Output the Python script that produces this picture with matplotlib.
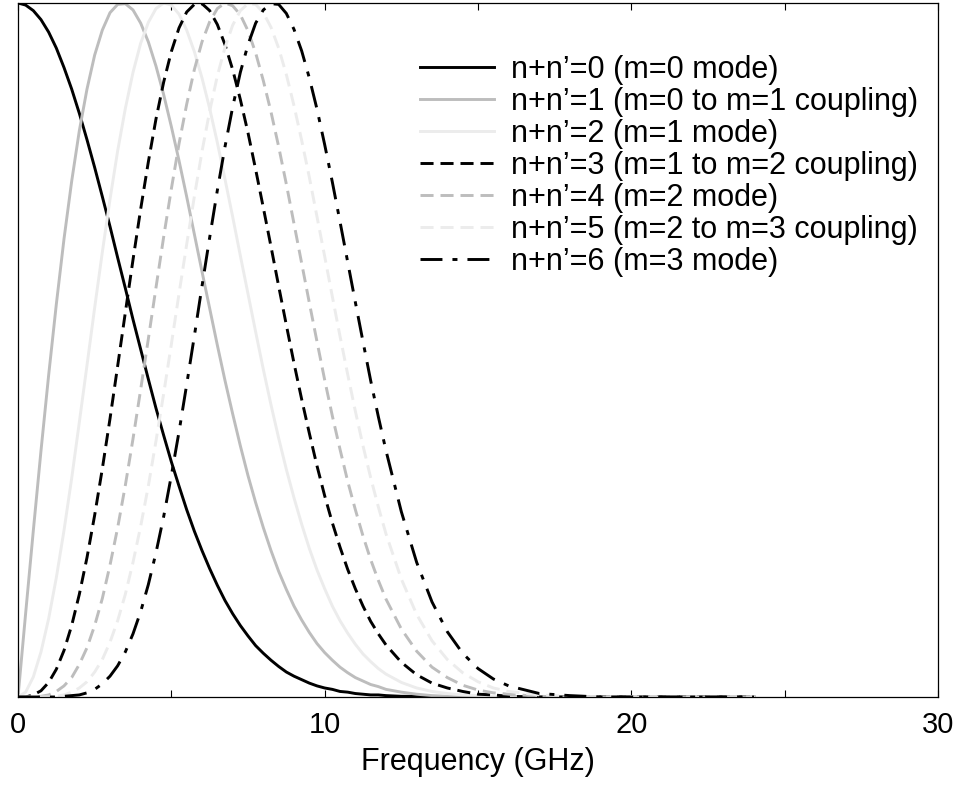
import matplotlib.pyplot as plt

# frequency samples (GHz) and normalised response of each n+n' order
freq = [0, 0.25, 0.5, 0.75, 1.0, 1.25, 1.5, 1.75,
        2.0, 2.25, 2.5, 2.75, 3.0, 3.25, 3.5, 3.75,
        4.0, 4.25, 4.5, 4.75, 5.0, 5.25, 5.5, 5.75,
        6.0, 6.25, 6.5, 6.75, 7.0, 7.25, 7.5, 7.75,
        8.0, 8.25, 8.5, 8.75, 9.0, 9.25, 9.5, 9.75,
        10.0, 10.25, 10.5, 10.75, 11.0, 11.25, 11.5, 11.75,
        12.0, 12.5, 13.0, 13.5, 14.0, 14.5, 15.0, 15.5,
        16.0, 17, 18, 19, 20, 21, 22, 23,
        24]

n0 = [1.000, 0.997, 0.989, 0.976, 0.958, 0.935, 0.907, 0.876,
      0.841, 0.803, 0.763, 0.721, 0.678, 0.633, 0.589, 0.544,
      0.501, 0.458, 0.416, 0.377, 0.339, 0.304, 0.270, 0.239,
      0.211, 0.185, 0.161, 0.139, 0.120, 0.103, 0.088, 0.074,
      0.063, 0.053, 0.044, 0.036, 0.030, 0.025, 0.020, 0.016,
      0.013, 0.011, 0.008, 0.007, 0.005, 0.004, 0.003, 0.003,
      0.002, 0.001, 0.001, 0, 0, 0, 0, 0,
      0, 0, 0, 0, 0, 0, 0, 0,
      0]
n1 = [0, 0.121, 0.240, 0.355, 0.464, 0.566, 0.660, 0.743,
      0.816, 0.876, 0.925, 0.961, 0.986, 0.998, 0.999, 0.990,
      0.971, 0.944, 0.909, 0.868, 0.822, 0.773, 0.721, 0.667,
      0.613, 0.560, 0.507, 0.456, 0.408, 0.362, 0.319, 0.280,
      0.244, 0.211, 0.181, 0.155, 0.131, 0.111, 0.093, 0.077,
      0.064, 0.053, 0.043, 0.035, 0.028, 0.023, 0.018, 0.015,
      0.011, 0.007, 0.004, 0.002, 0.001, 0.001, 0, 0,
      0, 0, 0, 0, 0, 0, 0, 0,
      0]
n2 = [0, 0.007, 0.029, 0.065, 0.113, 0.172, 0.240, 0.315,
      0.396, 0.478, 0.561, 0.641, 0.717, 0.787, 0.848, 0.900,
      0.942, 0.972, 0.992, 1.000, 0.997, 0.984, 0.961, 0.930,
      0.892, 0.848, 0.799, 0.746, 0.692, 0.636, 0.581, 0.526,
      0.472, 0.421, 0.373, 0.328, 0.287, 0.249, 0.214, 0.183,
      0.156, 0.131, 0.110, 0.092, 0.076, 0.062, 0.051, 0.041,
      0.033, 0.021, 0.013, 0.008, 0.005, 0.003, 0.002, 0.001,
      0, 0, 0, 0, 0, 0, 0, 0,
      0]
n3 = [0, 0, 0.003, 0.009, 0.021, 0.040, 0.067, 0.103,
      0.148, 0.201, 0.262, 0.329, 0.401, 0.477, 0.554, 0.630,
      0.703, 0.771, 0.833, 0.886, 0.930, 0.964, 0.987, 0.998,
      0.999, 0.989, 0.969, 0.940, 0.904, 0.861, 0.813, 0.760,
      0.705, 0.649, 0.592, 0.536, 0.481, 0.429, 0.380, 0.333,
      0.290, 0.251, 0.216, 0.184, 0.156, 0.131, 0.109, 0.091,
      0.075, 0.050, 0.032, 0.020, 0.013, 0.008, 0.004, 0.003,
      0.001, 0, 0, 0, 0, 0, 0, 0,
      0]
n4 = [0, 0, 0, 0.001, 0.003, 0.008, 0.016, 0.028,
      0.047, 0.071, 0.103, 0.142, 0.190, 0.244, 0.305, 0.372,
      0.443, 0.516, 0.590, 0.663, 0.732, 0.797, 0.854, 0.904,
      0.944, 0.973, 0.992, 1.000, 0.996, 0.983, 0.960, 0.928,
      0.888, 0.843, 0.793, 0.739, 0.682, 0.625, 0.568, 0.512,
      0.457, 0.405, 0.357, 0.311, 0.270, 0.232, 0.198, 0.168,
      0.141, 0.098, 0.066, 0.043, 0.028, 0.017, 0.010, 0.006,
      0.004, 0.001, 0, 0, 0, 0, 0, 0,
      0]
n5 = [0, 0, 0, 0, 0, 0.001, 0.003, 0.007,
      0.013, 0.022, 0.036, 0.054, 0.079, 0.110, 0.148, 0.194,
      0.246, 0.304, 0.369, 0.437, 0.508, 0.581, 0.652, 0.721,
      0.786, 0.844, 0.895, 0.936, 0.968, 0.989, 0.999, 0.998,
      0.986, 0.965, 0.935, 0.897, 0.852, 0.802, 0.749, 0.692,
      0.635, 0.577, 0.520, 0.465, 0.412, 0.362, 0.316, 0.274,
      0.235, 0.170, 0.119, 0.081, 0.054, 0.035, 0.022, 0.013,
      0.008, 0.003, 0.001, 0, 0, 0, 0, 0,
      0]
n6 = [0, 0, 0, 0, 0, 0, 0.001, 0.002,
      0.003, 0.006, 0.011, 0.019, 0.030, 0.045, 0.065, 0.091,
      0.123, 0.162, 0.208, 0.260, 0.319, 0.382, 0.450, 0.520,
      0.592, 0.662, 0.730, 0.793, 0.850, 0.900, 0.940, 0.971,
      0.990, 0.999, 0.998, 0.985, 0.962, 0.931, 0.892, 0.847,
      0.796, 0.742, 0.685, 0.627, 0.569, 0.512, 0.456, 0.404,
      0.355, 0.267, 0.194, 0.137, 0.094, 0.063, 0.041, 0.026,
      0.016, 0.005, 0.002, 0, 0, 0, 0, 0,
      0]

labels = ["n+n\u2019=0 (m=0 mode)",
          "n+n\u2019=1 (m=0 to m=1 coupling)",
          "n+n\u2019=2 (m=1 mode)",
          "n+n\u2019=3 (m=1 to m=2 coupling)",
          "n+n\u2019=4 (m=2 mode)",
          "n+n\u2019=5 (m=2 to m=3 coupling)",
          "n+n\u2019=6 (m=3 mode)"]

plt.rcParams['font.family'] = ['Liberation Sans', 'DejaVu Sans']
plt.rcParams['lines.scale_dashes'] = False

dash = (0, (9.4, 5.0))
dashdot = (0, (15.8, 7.2, 3.6, 7.2))
styles = [('black', '-'), ('#bdbdbd', '-'), ('#ececec', '-'),
          ('black', dash), ('#bdbdbd', dash), ('#ececec', dash),
          ('black', dashdot)]

fig = plt.figure(figsize=(9.73, 7.87), dpi=100)
ax = fig.add_axes([18 / 973, 90 / 787, 920 / 973, 694 / 787])

for ys, (col, ls), lab in zip([n0, n1, n2, n3, n4, n5, n6], styles, labels):
    ax.plot(freq, ys, color=col, linestyle=ls, linewidth=2.1, label=lab)

ax.set_xlim(0, 30)
ax.set_ylim(0, 1)
ax.set_yticks([])
ax.set_xticks([0, 10, 20, 30])
ax.set_xticks([5, 15, 25], minor=True)
ax.tick_params(which='both', direction='in', top=True, length=5, width=0.8,
               labelsize=21, pad=10)
for sp in ax.spines.values():
    sp.set_linewidth(0.9)

ax.set_xlabel('Frequency (GHz)', fontsize=22, labelpad=6)

ax.legend(loc='upper left', bbox_to_anchor=(0.437, 0.925), frameon=False,
          fontsize=22, borderpad=0, borderaxespad=0, handlelength=2.42,
          handletextpad=0.55, labelspacing=0.065)

fig.savefig('out.png', dpi=100)
